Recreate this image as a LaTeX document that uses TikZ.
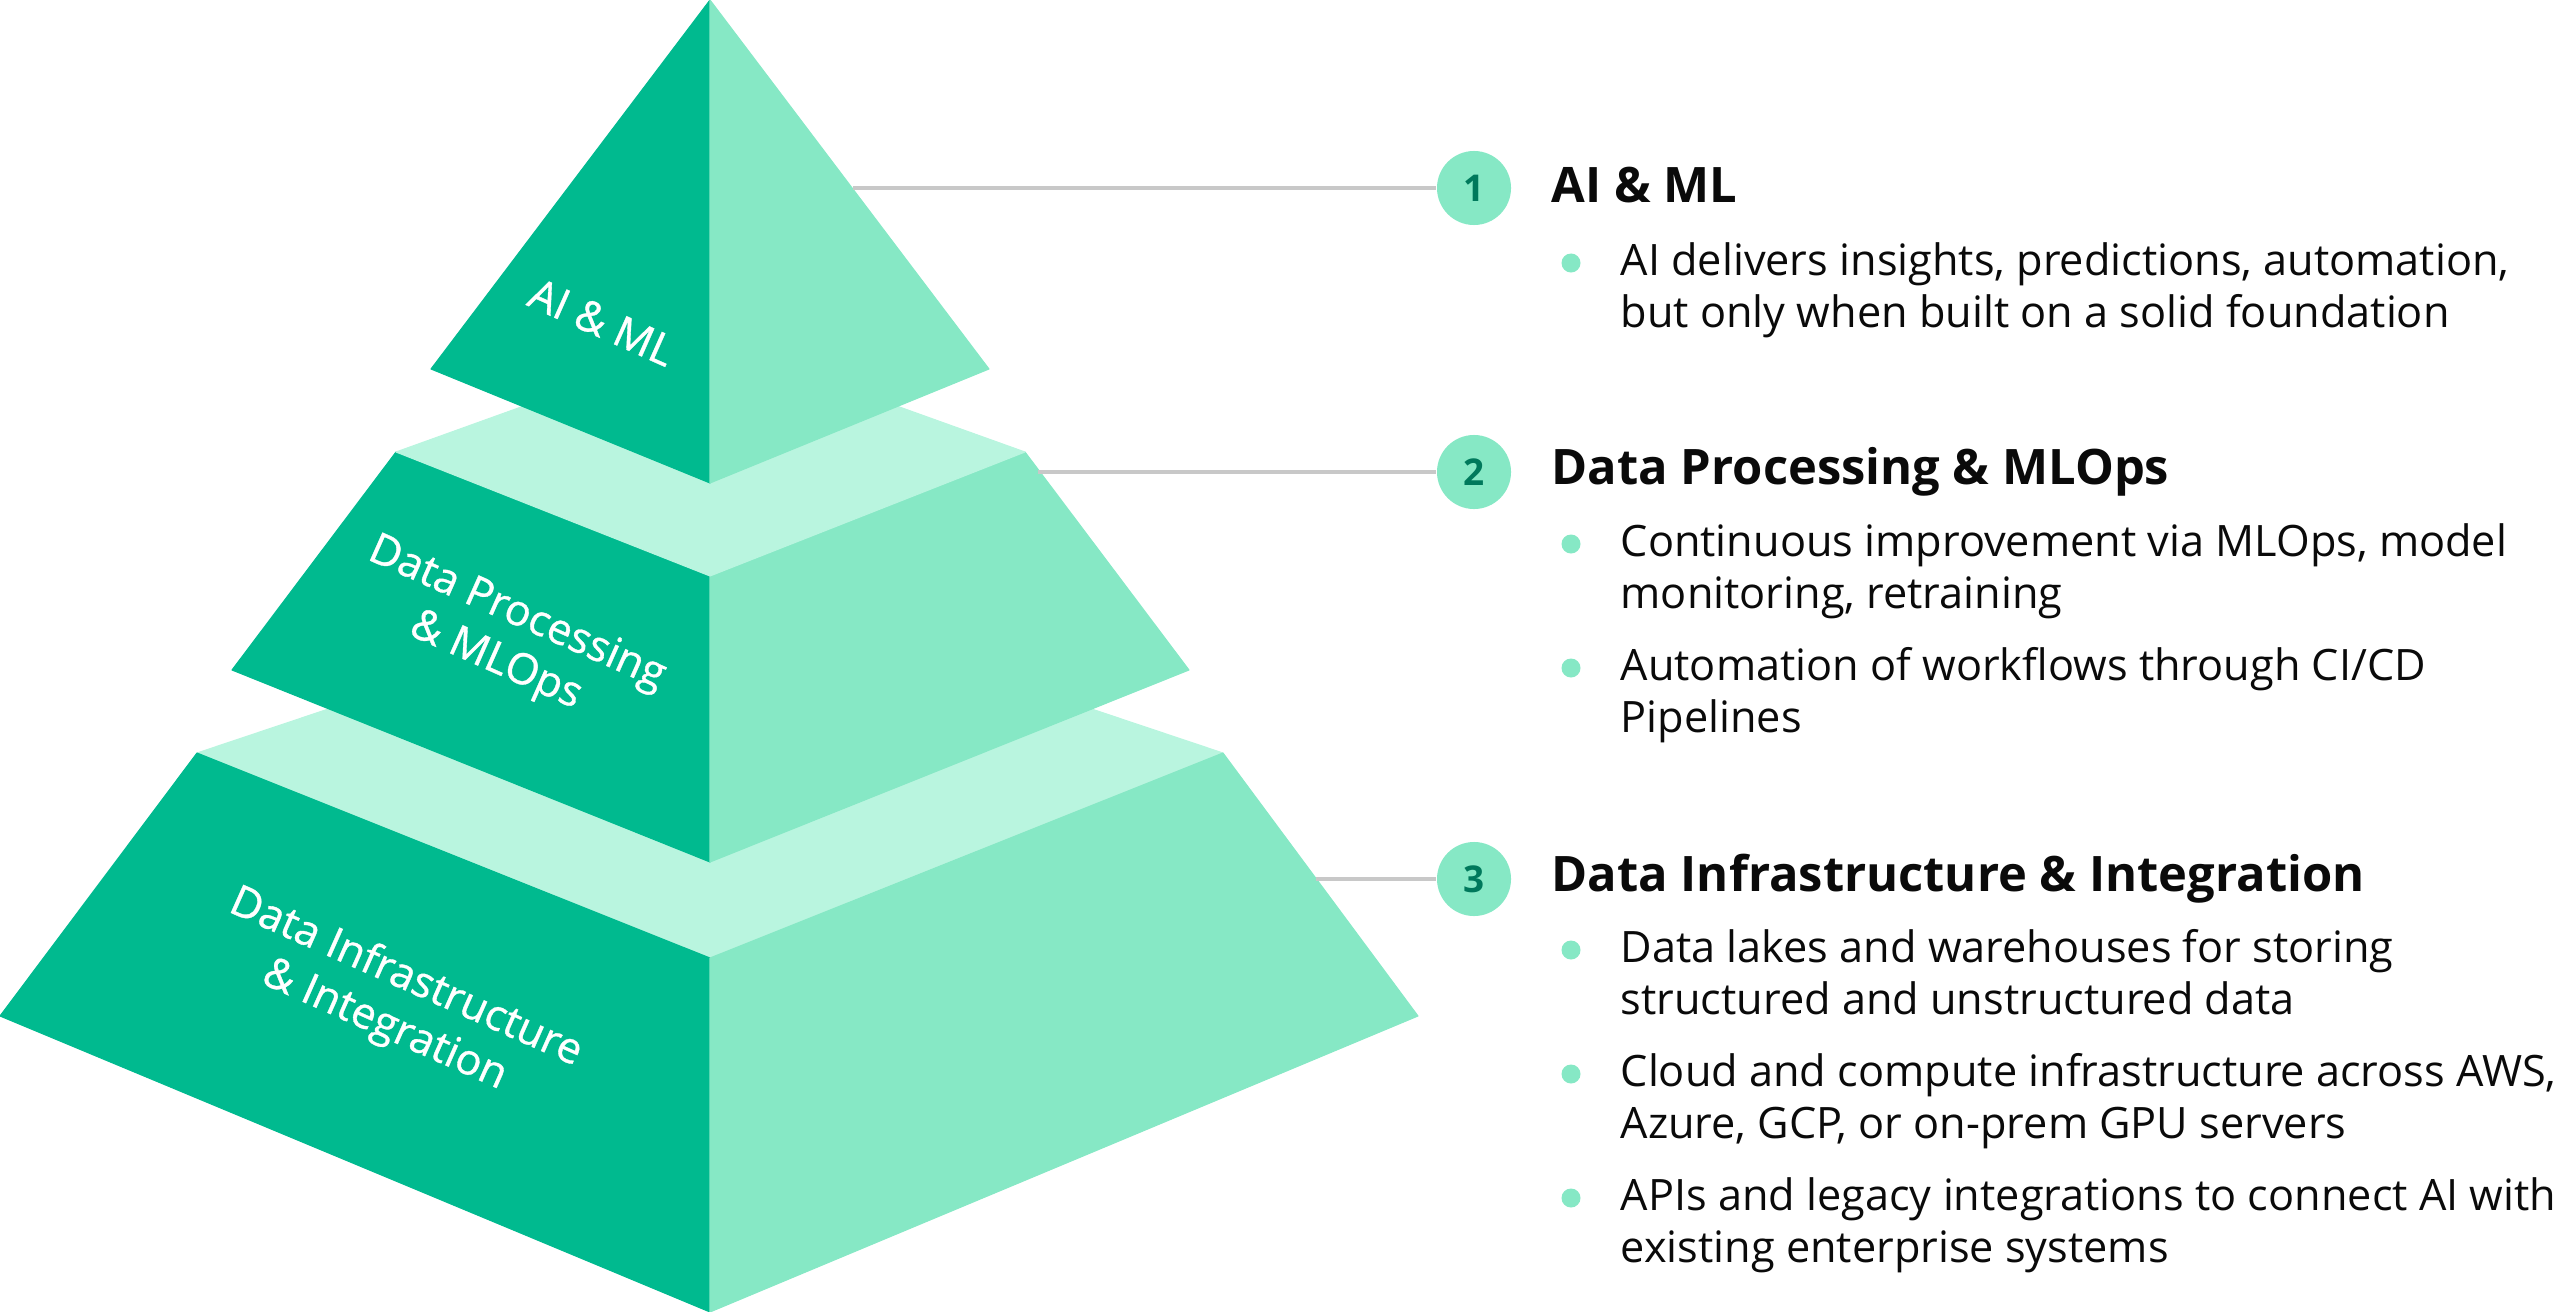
\documentclass[tikz,border=0pt]{standalone}
\usepackage{fontspec}
\setmainfont{Open Sans}
\definecolor{dk}{HTML}{00BA8F}
\definecolor{lt}{HTML}{86E8C5}
\definecolor{tp}{HTML}{B9F5DF}
\definecolor{num}{HTML}{00795C}
\definecolor{gr}{HTML}{C8C8C8}
\definecolor{txt}{HTML}{0A0A0A}
\begin{document}
\begin{tikzpicture}[x=0.01cm,y=-0.01cm,
  dkface/.style={fill=dk,draw=dk,line width=0.3pt,line join=round},
  ltface/.style={fill=lt,draw=lt,line width=0.3pt,line join=round},
  tpface/.style={fill=tp,draw=tp,line width=0.3pt,line join=round},
  conn/.style={draw=gr,line width=0.9pt},
  numc/.style={circle,fill=lt,minimum size=0.74cm,inner sep=0pt,text=num,font=\fontsize{10.5}{12}\selectfont\bfseries},
  head/.style={anchor=base west,inner sep=0pt,font=\fontsize{13.9}{16}\selectfont\bfseries,text=txt},
  body/.style={anchor=base west,inner sep=0pt,font=\fontsize{12.3}{14}\selectfont,text=txt},
  bdot/.style={circle,fill=lt,minimum size=0.19cm,inner sep=0pt},
  plabel/.style={text=white,align=center,font=\fontsize{12.2}{14.8}\selectfont\addfontfeature{FakeBold=0.8},rotate=-24,inner sep=0pt}]
\useasboundingbox (0,0) rectangle (2560,1312);
% bottom tier
\path[tpface] (197,753) -- (710,581) -- (1223,753) -- (710,958) -- cycle;
\path[dkface] (0,1016) -- (197,753) -- (710,958) -- (710,1312) -- cycle;
\path[ltface] (1418,1016) -- (1223,753) -- (710,958) -- (710,1312) -- cycle;
% middle tier
\path[dkface] (232,670) -- (396,452) -- (710,576) -- (710,862) -- cycle;
\path[ltface] (1189,670) -- (1025,452) -- (710,576) -- (710,862) -- cycle;
\path[tpface] (396,452) -- (710,339) -- (1025,452) -- (710,576) -- cycle;
% top tier
\path[dkface] (710,0) -- (431,369) -- (710,483) -- cycle;
\path[ltface] (710,0) -- (989,369) -- (710,483) -- cycle;
% labels on pyramid
\node[plabel] (l1) at (602,322) {AI \& ML};
\node[plabel] (l2) at (506,638) {Data Processing\\\& MLOps};
\node[plabel] (l3) at (395,1002) {Data Infrastructure\\\& Integration};
% number circles and connectors
\node[numc] (c1) at (1474,188) {1};
\node[numc] (c2) at (1474,472) {2};
\node[numc] (c3) at (1474,879) {3};
\coordinate (e1) at (853,188);
\coordinate (e2) at (1038,472);
\coordinate (e3) at (1316,879);
\draw[conn] (e1) -- (c1);
\draw[conn] (e2) -- (c2);
\draw[conn] (e3) -- (c3);
% headings
\node[head] (h1) at (1551,202) {AI \& ML};
\node[head] (h2) at (1551,484) {Data Processing \& MLOps};
\node[head] (h3) at (1551,891) {Data Infrastructure \& Integration};
% section 1
\node[bdot] (d11) at (1571,263) {};
\node[body] (t11a) at (1620,275) {AI delivers insights, predictions, automation,};
\node[body] (t11b) at (1620,327) {but only when built on a solid foundation};
% section 2
\node[bdot] (d21) at (1571,544) {};
\node[body] (t21a) at (1620,556) {Continuous improvement via MLOps, model};
\node[body] (t21b) at (1620,608) {monitoring, retraining};
\node[bdot] (d22) at (1571,668) {};
\node[body] (t22a) at (1620,680) {Automation of workflows through CI/CD};
\node[body] (t22b) at (1620,732) {Pipelines};
% section 3
\node[bdot] (d31) at (1571,950) {};
\node[body] (t31a) at (1620,962) {Data lakes and warehouses for storing};
\node[body] (t31b) at (1620,1014) {structured and unstructured data};
\node[bdot] (d32) at (1571,1074) {};
\node[body] (t32a) at (1620,1086) {Cloud and compute infrastructure across AWS,};
\node[body] (t32b) at (1620,1138) {Azure, GCP, or on-prem GPU servers};
\node[bdot] (d33) at (1571,1198) {};
\node[body] (t33a) at (1620,1210) {APIs and legacy integrations to connect AI with};
\node[body] (t33b) at (1620,1262) {existing enterprise systems};
\end{tikzpicture}
\end{document}
